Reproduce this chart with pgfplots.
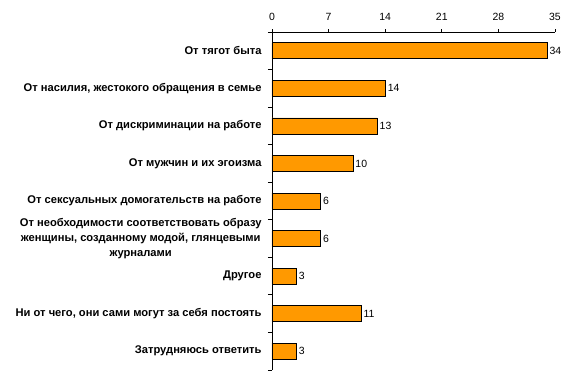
\documentclass[border=0pt]{standalone}
\usepackage{fontspec}
\setmainfont{Liberation Sans}
\usepackage{pgfplots}
\pgfplotsset{compat=1.18}
\definecolor{barorange}{HTML}{FF9900}
\begin{document}
\begin{tikzpicture}
\path[use as bounding box] (-272bp,-5bp) rectangle (310bp,370bp);
\begin{axis}[
  at={(0,0)}, anchor=south west,
  scale only axis,
  width=283bp, height=338bp,
  xmin=0, xmax=35,
  ymin=-0.5, ymax=8.5,
  y dir=reverse,
  axis x line*=top,
  axis y line*=left,
  xtick={0,7,14,21,28,35},
  tick align=outside,
  major tick length=3bp,
  minor tick length=4bp,
  ytick={0,1,2,3,4,5,6,7,8},
  major y tick style={draw=none},
  minor ytick={-0.5,0.5,1.5,2.5,3.5,4.5,5.5,6.5,7.5,8.5},
  yticklabels={
    {От тягот быта},
    {От насилия, жестокого обращения в семье},
    {От дискриминации на работе},
    {От мужчин и их эгоизма},
    {От сексуальных домогательств на работе},
    {От необходимости соответствовать образу\\женщины, созданному модой, глянцевыми\\журналами},
    {Другое},
    {Ни от чего, они сами могут за себя постоять},
    {Затрудняюсь ответить}},
  yticklabel style={font=\fontsize{11.2}{15.5}\selectfont\bfseries, align=center, xshift=-4bp},
  xticklabel style={font=\fontsize{10.5}{11}\selectfont, yshift=5bp},
  /pgf/number format/assume math mode=true,
  axis line style={black, line width=0.8pt},
  every tick/.style={black, line width=0.8pt},
  xbar, bar width=16bp, bar shift=0pt,
  nodes near coords,
  nodes near coords style={font=\fontsize{10.5}{11}\selectfont, anchor=west, xshift=-1bp},
  clip=false,
]
\addplot[fill=barorange, draw=black, line width=0.6pt] coordinates {
  (34,0) (14,1) (13,2) (10,3) (6,4) (6,5) (3,6) (11,7) (3,8)
};
\end{axis}
\end{tikzpicture}
\end{document}
